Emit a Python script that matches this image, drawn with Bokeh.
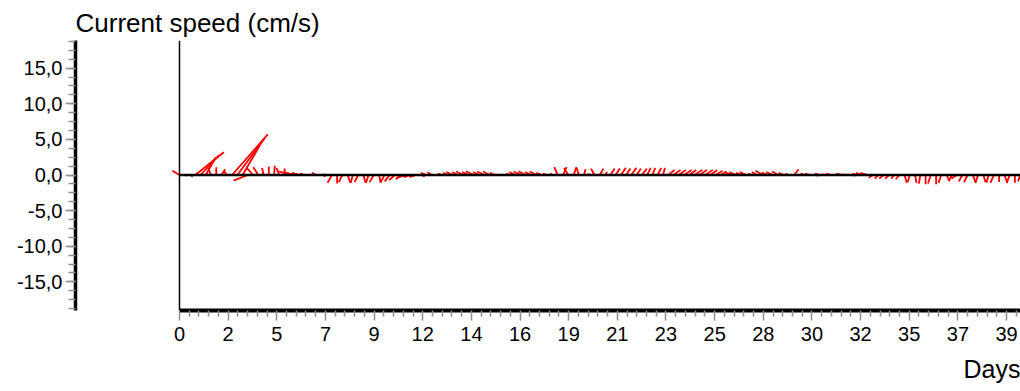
import numpy as np
from bokeh.plotting import figure
from bokeh.models import (Range1d, FixedTicker, SingleIntervalTicker,
                          CustomJSTickFormatter, Span, Title)
from bokeh.embed import file_html
from bokeh.resources import INLINE

# ---------------- data ----------------
sample_step_days = 0.25          # one stick every 6 hours
# east (u) and north (v) current components, cm/s
u = [-1.0, 0.3, 0.4, 4.0, 2.6, 1.4, -0.4, 0.0, 0.5, -0.4,
     5.0, 3.8, 2.5, -2.0, -0.9, -0.7, -0.2, 0.0, 0.1, -0.4,
     0.0, -1.5, -1.6, -1.2, -0.8, 0.6, -0.6, 0.5, -0.4, -0.6,
     0.0, -0.5, 0.4, -0.3, -0.5, 0.3, -0.4, -0.6, 0.2, -0.5,
     -0.7, -0.8, -0.6, -1.2, -1.0, -0.9, 0.5, -0.8, -0.6, 0.4,
     -0.5, -0.6, -0.9, -0.8, -1.0, -0.9, -1.1, -0.8, -1.0, -0.9,
     -0.7, -0.4, 0.5, -0.6, -0.9, -1.0, -1.1, -0.9, -1.0, -0.8,
     -0.6, -0.4, -0.5, 0.5, -0.6, 0.4, -0.3, 0.2, -0.2, -0.5,
     0.5, 0.3, 0.6, 0.6, 0.7, 0.6, 0.7, 0.6, 0.7, 0.5,
     0.4, 0.5, 0.3, 0.9, 1.0, 1.0, 1.1, 1.0, 1.1, 1.0,
     1.1, 1.0, 1.0, 0.8, 0.6, -0.9, -1.0, -0.8, -1.0, -0.6,
     -0.8, -1.0, -0.9, -1.0, -0.9, -0.7, -0.5, 0.6, 0.5, -0.6,
     -0.7, 0.5, -0.8, -0.6, -0.7, 0.6, -0.8, -0.6, 0.5, -0.7,
     -0.9, -1.0, -0.6, -0.5, -0.6, -0.5, -0.4, -0.5, 0.3, -0.3,
     0.2, -0.2, 0.0, -0.4, 0.0, -0.4, 0.4, -0.4, -0.8, -0.5,
     -0.5, 0.4, -0.4, 0.3, -0.3, -0.5, 0.0, 0.4, -0.4, 0.0,
     -0.3]
v = [0.6, -0.1, -0.2, 3.2, 2.8, 2.5, 1.0, 1.1, 0.8, 0.6,
     5.7, 5.1, 4.3, -0.8, 1.0, 1.1, 1.0, 1.2, 1.3, 1.0,
     0.9, 0.5, 0.4, 0.3, 0.2, 0.2, 0.3, 0.1, -0.2, -1.1,
     -1.2, -1.0, -1.1, -1.1, -1.0, -1.1, -1.1, -1.0, -1.1, -1.0,
     -0.9, -0.7, -0.6, -0.4, -0.3, -0.3, -0.2, 0.3, 0.4, 0.2,
     0.1, 0.3, 0.4, 0.4, 0.5, 0.4, 0.5, 0.4, 0.5, 0.5,
     0.3, 0.1, 0.1, 0.2, 0.4, 0.5, 0.5, 0.4, 0.5, 0.3,
     0.2, 0.2, 1.1, 1.1, 1.0, 1.1, 1.0, 0.8, 0.2, 0.9,
     0.9, 0.4, 0.9, 0.9, 1.0, 0.9, 1.0, 0.9, 0.9, 1.0,
     1.0, 1.0, 1.0, 0.7, 0.7, 0.7, 0.7, 0.7, 0.7, 0.7,
     0.7, 0.7, 0.6, 0.5, 0.2, 0.4, 0.4, 0.3, 0.4, 0.2,
     0.4, 0.6, 0.3, 0.4, 0.5, 0.3, 0.2, 0.8, 0.2, 0.1,
     0.2, -0.1, 0.2, 0.1, 0.2, 0.1, 0.2, 0.1, -0.1, 0.2,
     0.3, 0.3, -0.4, -0.5, -0.5, -0.5, -0.5, -0.6, -1.1, -1.0,
     -1.1, -1.2, -1.3, -1.2, -1.3, -1.1, -0.9, -0.8, -0.5, -0.9,
     -1.0, -1.1, -1.1, -1.0, -1.1, -1.1, -1.0, -1.1, -1.1, -1.1,
     -0.9]

y_tick_step = 5
x_tick_step_days = 200000 / 86400     # axis ticks every 200 000 s
x_start, x_end = 0, 40                 # record extent in days
stick_scale = 0.340                    # days of x per cm/s of u

t = np.arange(len(u)) * sample_step_days
x1 = t + stick_scale * np.array(u)
y1 = np.array(v)

# ---------------- figure ----------------
p = figure(width=1020, height=391, output_backend="svg", toolbar_location=None,
           x_range=Range1d(-4.948, 40.016), y_range=Range1d(-19.03, 18.89),
           min_border_left=75, min_border_right=0, min_border_top=40,
           min_border_bottom=80)
p.outline_line_color = None
p.xgrid.visible = False
p.ygrid.visible = False
p.background_fill_color = "white"

p.title.text = "Current speed (cm/s)"
p.title.text_font = "Liberation Sans"
p.title.text_font_size = "26px"
p.title.text_font_style = "normal"
p.title.text_color = "black"
p.title.align = "left"
p.title.standoff = 6

p.add_layout(Title(text="Days", align="right", text_font="Liberation Sans",
                   text_font_size="25px", text_font_style="normal",
                   text_color="black", standoff=18),
             "below")

# x axis
xt = [i * x_tick_step_days for i in range(int(x_end / x_tick_step_days) + 1)]
xminor = [a + k * x_tick_step_days / 5 for a in xt for k in range(1, 5)]
xax = p.xaxis[0]
xax.ticker = FixedTicker(ticks=xt, minor_ticks=xminor)
xax.formatter = CustomJSTickFormatter(code="return Math.round(tick).toString();")
xax.bounds = (x_start, x_end)
xax.axis_line_width = 4
xax.axis_line_color = "black"
xax.major_tick_line_color = "#909090"
xax.minor_tick_line_color = "#909090"
xax.major_tick_line_width = 1.5
xax.minor_tick_line_width = 1.5
xax.major_tick_in = 0
xax.major_tick_out = 10
xax.minor_tick_in = 0
xax.minor_tick_out = 6
xax.major_label_text_font = "Liberation Sans"
xax.major_label_text_font_size = "20px"
xax.major_label_text_color = "black"
xax.major_label_standoff = 6

# y axis
yax = p.yaxis[0]
yax.ticker = SingleIntervalTicker(interval=y_tick_step, num_minor_ticks=4)
yax.formatter = CustomJSTickFormatter(code="return tick.toFixed(1).replace('.', ',');")
yax.axis_line_width = 3.5
yax.axis_line_color = "black"
yax.major_tick_line_color = "#909090"
yax.minor_tick_line_color = "#909090"
yax.major_tick_line_width = 1.5
yax.minor_tick_line_width = 1.5
yax.major_tick_in = 0
yax.major_tick_out = 10
yax.minor_tick_in = 0
yax.minor_tick_out = 7
yax.major_label_text_font = "Liberation Sans"
yax.major_label_text_font_size = "20px"
yax.major_label_text_color = "black"
yax.major_label_standoff = 3

# time origin line
p.add_layout(Span(location=x_start, dimension="height", line_color="black", line_width=1.5))

# current sticks
p.segment(x0=t, y0=np.zeros_like(t), x1=x1, y1=y1, line_color="red", line_width=1.8)

# zero line
p.line(x=[x_start, x_end], y=[0, 0], line_color="black", line_width=2.5)

open("out.html", "w").write(file_html(p, INLINE))
